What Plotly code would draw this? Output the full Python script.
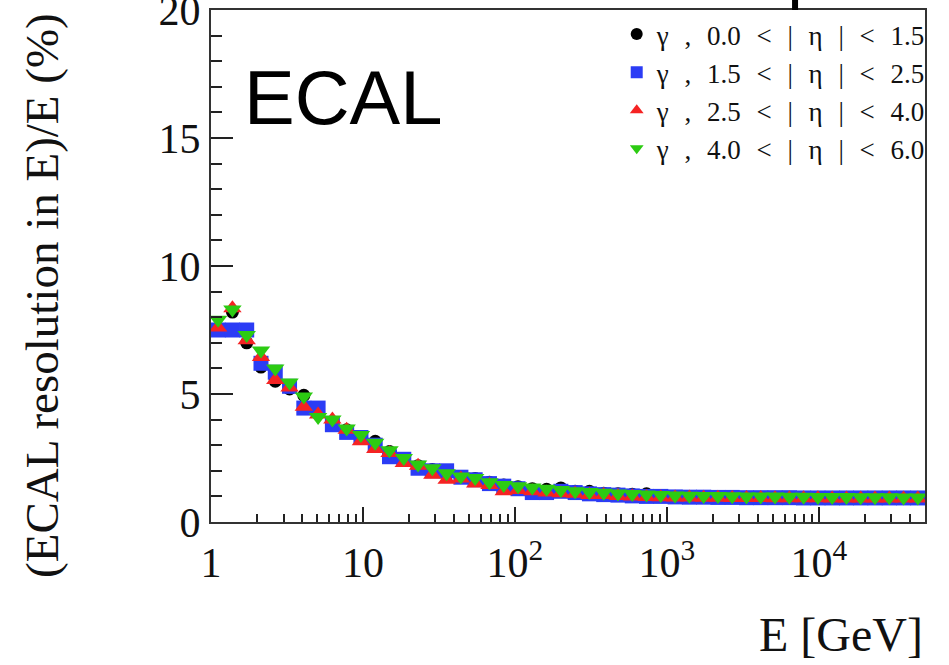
import numpy as np
import plotly.graph_objects as go

# 50 logarithmic bins in E from 1 GeV to 5e4 GeV (histogram binning)
E_MIN, E_MAX, N_BINS = 1.0, 5.0e4, 50
edges = np.logspace(np.log10(E_MIN), np.log10(E_MAX), N_BINS + 1)
energy = np.sqrt(edges[:-1] * edges[1:])

SP = "\u2002\u200a"  # wider space, like the reference legend spacing
series_names = [
    f"γ{SP},{SP}0.0{SP}&lt;{SP}|{SP}η{SP}|{SP}&lt;{SP}1.5",
    f"γ{SP},{SP}1.5{SP}&lt;{SP}|{SP}η{SP}|{SP}&lt;{SP}2.5",
    f"γ{SP},{SP}2.5{SP}&lt;{SP}|{SP}η{SP}|{SP}&lt;{SP}4.0",
    f"γ{SP},{SP}4.0{SP}&lt;{SP}|{SP}η{SP}|{SP}&lt;{SP}6.0",
]

res_eta_0_15 = [7.5, 8.2, 7.0, 6.05, 5.5, 5.2, 4.95, 4.3, 3.9, 3.6,
                3.3, 3.15, 2.75, 2.45, 2.2, 2.05, 1.85, 1.75, 1.7, 1.55,
                1.45, 1.38, 1.3, 1.28, 1.33, 1.2, 1.2, 1.12, 1.1, 1.08,
                1.1, 1.02, 1.0, 0.99, 0.98, 0.98, 0.97, 0.97, 0.96, 0.96,
                0.96, 0.96, 0.95, 0.95, 0.95, 0.95, 0.95, 0.95, 0.95, 0.95]
res_eta_15_25 = [7.5, 7.5, 7.5, 6.2, 5.85, 5.3, 4.45, 4.45, 3.8, 3.5,
                 3.3, 3.0, 2.55, 2.45, 2.1, 2.0, 2.0, 1.75, 1.65, 1.5,
                 1.4, 1.3, 1.15, 1.15, 1.2, 1.15, 1.1, 1.07, 1.05, 1.02,
                 1.0, 1.0, 0.98, 0.97, 0.97, 0.96, 0.96, 0.95, 0.95, 0.95,
                 0.95, 0.94, 0.94, 0.94, 0.94, 0.94, 0.94, 0.94, 0.94, 0.94]
res_eta_25_40 = [7.6, 8.35, 7.1, 6.45, 5.55, 5.25, 4.5, 4.2, 4.0, 3.6,
                 3.15, 2.85, 2.7, 2.3, 2.2, 1.85, 1.65, 1.7, 1.5, 1.45,
                 1.2, 1.25, 1.2, 1.15, 1.12, 1.1, 1.05, 1.05, 1.02, 1.0,
                 0.98, 0.97, 0.96, 0.96, 0.95, 0.95, 0.94, 0.94, 0.94, 0.93,
                 0.93, 0.93, 0.93, 0.92, 0.92, 0.92, 0.92, 0.92, 0.92, 0.92]
res_eta_40_60 = [7.9, 8.3, 7.3, 6.7, 6.0, 5.45, 4.9, 4.1, 4.0, 3.65,
                 3.4, 3.1, 2.8, 2.5, 2.25, 2.1, 1.9, 1.78, 1.72, 1.55,
                 1.45, 1.4, 1.35, 1.3, 1.25, 1.2, 1.17, 1.14, 1.11, 1.09,
                 1.07, 1.05, 1.04, 1.03, 1.02, 1.02, 1.01, 1.0, 1.0, 1.0,
                 0.99, 0.99, 0.98, 0.98, 0.98, 0.97, 0.97, 0.97, 0.96, 0.96]

series_values = [res_eta_0_15, res_eta_15_25, res_eta_25_40, res_eta_40_60]
colors = ["#000000", "#2b3cf5", "#f52323", "#2ccb12"]
symbols = ["circle", "square", "triangle-up", "triangle-down"]
sizes = [13, 15, 16, 16]

x_tickvals = [1, 10, 100, 1000, 10000]
x_ticktext = ["1", "10", "10<sup>2</sup>", "10<sup>3</sup>", "10<sup>4</sup>"]
y_tickvals = [0, 5, 10, 15, 20]

SERIF = "Liberation Serif"

fig = go.Figure()
for name, vals, c, s, sz in zip(series_names, series_values, colors, symbols, sizes):
    fig.add_trace(go.Scatter(
        x=energy, y=vals, mode="markers", name=name,
        marker=dict(color=c, symbol=s, size=sz, line=dict(width=0)),
    ))

fig.update_layout(
    width=949, height=665,
    margin=dict(l=211, r=24, t=10, b=143, autoexpand=False),
    paper_bgcolor="white", plot_bgcolor="white",
    font=dict(family=SERIF, color="#111111"),
    legend=dict(
        x=1.008, xanchor="right", y=1.0, yanchor="top",
        bgcolor="rgba(0,0,0,0)", font=dict(family=SERIF, size=27, color="#111111"),
        itemsizing="constant",
    ),
    xaxis=dict(
        type="log", range=[0, np.log10(E_MAX)], automargin=False,
        tickvals=x_tickvals, ticktext=x_ticktext,
        ticks="inside", ticklen=15, tickwidth=1.5, tickcolor="#222222",
        minor=dict(ticks="inside", ticklen=8, tickwidth=1.5, tickcolor="#222222",
                   dtick="D1", showgrid=False),
        showline=True, linecolor="#333333", linewidth=2, mirror=True,
        showgrid=False, zeroline=False,
        tickfont=dict(family=SERIF, size=42, color="#111111"),
        ticklabelstandoff=3, ticklabeloverflow="allow",
    ),
    yaxis=dict(
        range=[0, 20], tickvals=y_tickvals, automargin=False,
        ticks="inside", ticklen=22, tickwidth=1.5, tickcolor="#222222",
        minor=dict(ticks="inside", ticklen=11, tickwidth=1.5, tickcolor="#222222",
                   dtick=1, showgrid=False),
        showline=True, linecolor="#333333", linewidth=2, mirror=True,
        showgrid=False, zeroline=False,
        tickfont=dict(family=SERIF, size=42, color="#111111"),
        ticklabelstandoff=0, ticklabeloverflow="allow",
    ),
    annotations=[
        dict(text="ECAL", xref="paper", yref="paper", x=0.044, y=0.83,
             xanchor="left", yanchor="middle", showarrow=False,
             font=dict(family="Liberation Sans", size=76, color="#000000")),
        dict(text="(ECAL resolution in E)/E (%)", xref="paper", yref="paper",
             x=-0.237, y=0.443, xanchor="center", yanchor="middle", textangle=-90,
             showarrow=False, font=dict(family=SERIF, size=47, color="#111111")),
        dict(text="E [GeV]", xref="paper", yref="paper", x=1.0, y=-0.22,
             xanchor="right", yanchor="middle", showarrow=False,
             font=dict(family=SERIF, size=48, color="#111111")),
    ],
    shapes=[
        dict(type="line", xref="paper", yref="paper", x0=0.818, x1=0.818,
             y0=1.0, y1=1.03, line=dict(color="black", width=6)),
    ],
)

fig.write_html("out.html")
